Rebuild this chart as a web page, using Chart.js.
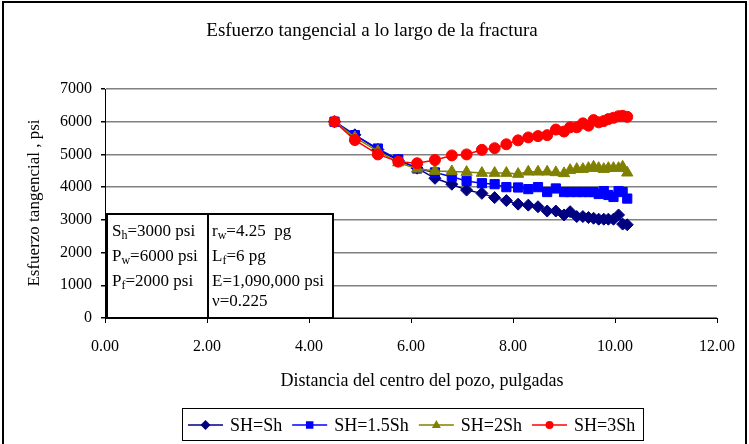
<!DOCTYPE html>
<html>
<head>
<meta charset="utf-8">
<script src="https://cdn.jsdelivr.net/npm/chart.js"></script>
<style>
  html, body { margin: 0; padding: 0; background: #fff; }
</style>
</head>
<body>
<canvas id="stressChart" width="749" height="444"></canvas>
<script>
// distancia del centro del pozo (pulgadas)
const distance = [4.5, 4.9, 5.35, 5.75, 6.12, 6.47, 6.8, 7.09, 7.39, 7.64, 7.87, 8.1, 8.3, 8.49, 8.67,
                  8.84, 9.0, 9.12, 9.25, 9.37, 9.48, 9.58, 9.68, 9.78, 9.87, 9.97, 10.07, 10.15, 10.24];

const seriesNames = ['SH=Sh', 'SH=1.5Sh', 'SH=2Sh', 'SH=3Sh'];

// esfuerzo tangencial (psi)
const stressSh   = [6000, 5600, 5150, 4820, 4580, 4270, 4090, 3910, 3810, 3680, 3590, 3480, 3450, 3400, 3270,
                    3270, 3150, 3250, 3100, 3100, 3070, 3050, 3020, 3020, 3020, 3020, 3150, 2870, 2850];
const stress15Sh = [6000, 5590, 5180, 4850, 4570, 4450, 4320, 4190, 4120, 4090, 4000, 3990, 3940, 4000, 3850,
                    3960, 3850, 3850, 3850, 3850, 3850, 3850, 3790, 3880, 3760, 3700, 3880, 3850, 3650];
const stress2Sh  = [6000, 5520, 5100, 4750, 4560, 4490, 4480, 4460, 4430, 4430, 4430, 4400, 4470, 4470, 4470,
                    4450, 4420, 4520, 4550, 4550, 4580, 4620, 4580, 4550, 4580, 4580, 4580, 4620, 4440];
const stress3Sh  = [6000, 5440, 5000, 4780, 4730, 4830, 4970, 5000, 5140, 5190, 5310, 5430, 5520, 5560, 5590,
                    5760, 5700, 5830, 5830, 5950, 5880, 6050, 5980, 6020, 6080, 6120, 6170, 6180, 6150];

const xTicks = [0, 2, 4, 6, 8, 10, 12];
const yTicks = [0, 1000, 2000, 3000, 4000, 5000, 6000, 7000];

const leftNotes  = [['P', 'w', '=6000 psi'], ['P', 'f', '=2000 psi']];
const serif = "'Liberation Serif', 'Times New Roman', serif";

function toPoints(values) {
    return values.map((v, i) => ({ x: distance[i], y: v }));
}

function makeSet(label, values, color, style, radius, order) {
    return {
        label: label,
        data: toPoints(values),
        borderColor: color,
        backgroundColor: color,
        pointBackgroundColor: color,
        pointBorderColor: color,
        pointStyle: style,
        pointRadius: radius,
        pointBorderWidth: 1,
        borderWidth: 1.5,
        tension: 0,
        order: order
    };
}

const datasets = [
    makeSet(seriesNames[0], stressSh, '#000080', 'rectRot', 6, 3),
    makeSet(seriesNames[1], stress15Sh, '#0000ff', 'rect', 6.5, 2),
    makeSet(seriesNames[2], stress2Sh, '#808000', 'triangle', 6.5, 1),
    makeSet(seriesNames[3], stress3Sh, '#ff0000', 'circle', 5.5, 0)
];

// dibuja un marcador para la leyenda
function drawMarker(ctx, style, x, y, r, color) {
    ctx.save();
    ctx.fillStyle = color;
    ctx.beginPath();
    if (style === 'rectRot') {
        ctx.moveTo(x, y - r); ctx.lineTo(x + r, y); ctx.lineTo(x, y + r); ctx.lineTo(x - r, y);
    } else if (style === 'rect') {
        ctx.rect(x - r * 0.75, y - r * 0.75, r * 1.5, r * 1.5);
    } else if (style === 'triangle') {
        ctx.moveTo(x, y - r); ctx.lineTo(x + r * 0.9, y + r * 0.6); ctx.lineTo(x - r * 0.9, y + r * 0.6);
    } else {
        ctx.arc(x, y, r * 0.8, 0, Math.PI * 2);
    }
    ctx.closePath();
    ctx.fill();
    ctx.restore();
}

// texto con subíndice
function subText(ctx, x, y, main, sub, rest, size) {
    ctx.font = size + 'px ' + serif;
    ctx.fillText(main, x, y);
    x += ctx.measureText(main).width;
    ctx.font = Math.round(size * 0.68) + 'px ' + serif;
    ctx.fillText(sub, x, y + 3);
    x += ctx.measureText(sub).width;
    ctx.font = size + 'px ' + serif;
    ctx.fillText(rest, x, y);
}

const notesBox = {
    id: 'notesBox',
    afterDatasetsDraw(chart) {
        const ctx = chart.ctx;
        ctx.save();
        ctx.fillStyle = '#fff';
        ctx.fillRect(107, 214, 226, 104);
        ctx.strokeStyle = '#000';
        ctx.lineWidth = 2;
        ctx.strokeRect(107, 214, 226, 104);
        ctx.beginPath();
        ctx.moveTo(208, 214); ctx.lineTo(208, 318);
        ctx.stroke();

        ctx.fillStyle = '#000';
        ctx.textBaseline = 'alphabetic';
        ctx.textAlign = 'left';
        subText(ctx, 112, 236, 'S', 'h', '=3000 psi', 17);
        subText(ctx, 112, 261, leftNotes[0][0], leftNotes[0][1], leftNotes[0][2], 17);
        subText(ctx, 112, 286, leftNotes[1][0], leftNotes[1][1], leftNotes[1][2], 17);
        subText(ctx, 212, 236, 'r', 'w', '=4.25  pg', 17);
        subText(ctx, 212, 261, 'L', 'f', '=6 pg', 17);
        ctx.font = '17px ' + serif;
        ctx.fillText('E=1,090,000 psi', 212, 286);
        ctx.fillText('\u03bd=0.225', 212, 306);
        ctx.restore();
    },
    afterDraw(chart) {
        const ctx = chart.ctx;
        ctx.save();
        ctx.fillStyle = '#000';
        ctx.textAlign = 'center';
        ctx.textBaseline = 'middle';

        ctx.font = '19px ' + serif;
        ctx.fillText('Esfuerzo tangencial a lo largo de la fractura', 372, 31);

        ctx.font = '18px ' + serif;
        ctx.fillText('Distancia del centro del pozo, pulgadas', 422, 381);

        ctx.save();
        ctx.translate(35, 203);
        ctx.rotate(-Math.PI / 2);
        ctx.font = '17px ' + serif;
        ctx.fillText('Esfuerzo tangencial , psi', 0, 0);
        ctx.restore();

        // leyenda
        ctx.strokeStyle = '#000';
        ctx.lineWidth = 1;
        ctx.strokeRect(182.5, 408.5, 461, 32);
        ctx.font = '18px ' + serif;
        ctx.textAlign = 'left';
        ctx.textBaseline = 'alphabetic';
        let x = 188;
        chart.data.datasets.forEach(ds => {
            ctx.strokeStyle = ds.borderColor;
            ctx.lineWidth = 1.5;
            ctx.beginPath();
            ctx.moveTo(x, 425); ctx.lineTo(x + 35, 425);
            ctx.stroke();
            drawMarker(ctx, ds.pointStyle, x + 17.5, 425, 5, ds.borderColor);
            ctx.fillStyle = '#000';
            ctx.fillText(ds.label, x + 42, 431);
            x += 42 + ctx.measureText(ds.label).width + 10;
        });

        // marco exterior
        ctx.strokeStyle = '#000';
        ctx.lineWidth = 2;
        ctx.strokeRect(3, 2, 743, 470);
        ctx.restore();
    }
};

const config = {
    type: 'line',
    data: { datasets: datasets },
    options: {
        responsive: false,
        animation: false,
        devicePixelRatio: 1,
        layout: { padding: { top: 89, right: 26, left: 0, bottom: 0 } },
        plugins: {
            legend: { display: false },
            title: { display: false },
            tooltip: { enabled: false }
        },
        scales: {
            x: {
                type: 'linear',
                min: 0,
                max: 12,
                afterFit: s => { s.height = 126; },
                afterBuildTicks: s => { s.ticks = xTicks.map(v => ({ value: v })); },
                ticks: {
                    color: '#000',
                    font: { family: serif, size: 16 },
                    padding: 14,
                    maxRotation: 0,
                    callback: v => v.toFixed(2)
                },
                grid: { drawOnChartArea: false, drawTicks: true, tickLength: 5, tickColor: '#000' },
                border: { color: '#000', width: 1 }
            },
            y: {
                min: 0,
                max: 7000,
                afterFit: s => { s.width = 105; },
                afterBuildTicks: s => { s.ticks = yTicks.map(v => ({ value: v })); },
                ticks: {
                    color: '#000',
                    font: { family: serif, size: 16 },
                    padding: 9,
                    callback: v => String(v)
                },
                grid: { color: '#808080', lineWidth: 1.5, tickLength: 4, tickColor: '#000' },
                border: { color: '#000', width: 1 }
            }
        }
    },
    plugins: [notesBox]
};

new Chart(document.getElementById('stressChart').getContext('2d'), config);
</script>
</body>
</html>
